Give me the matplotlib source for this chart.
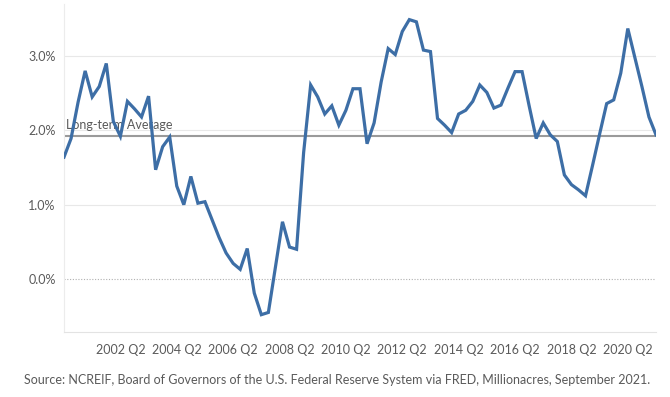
import matplotlib
matplotlib.use("Agg")
import matplotlib.pyplot as plt
import pandas as pd

# Quarterly series, 2000 Q2 .. 2021 Q2
quarters = [str(p).replace("Q", " Q") for p in pd.period_range("2000Q2", "2021Q2", freq="Q")]
values = [
    1.64, 1.89, 2.38, 2.80, 2.45, 2.59, 2.90, 2.12, 1.92, 2.39,
    2.29, 2.18, 2.46, 1.47, 1.78, 1.91, 1.25, 1.00, 1.38, 1.02,
    1.04, 0.80, 0.56, 0.35, 0.21, 0.13, 0.41, -0.19, -0.48, -0.45,
    0.16, 0.77, 0.43, 0.40, 1.70, 2.61, 2.45, 2.22, 2.33, 2.07,
    2.27, 2.56, 2.56, 1.82, 2.10, 2.65, 3.10, 3.02, 3.33, 3.49,
    3.46, 3.08, 3.06, 2.16, 2.07, 1.97, 2.22, 2.27, 2.39, 2.61,
    2.51, 2.30, 2.34, 2.57, 2.79, 2.79, 2.33, 1.89, 2.10, 1.94,
    1.85, 1.40, 1.27, 1.20, 1.12, 1.53, 1.95, 2.36, 2.41, 2.77,
    3.37, 2.98, 2.59, 2.18, 1.94,
]
long_term_average = 1.93
tick_labels = ["2002 Q2", "2004 Q2", "2006 Q2", "2008 Q2", "2010 Q2",
               "2012 Q2", "2014 Q2", "2016 Q2", "2018 Q2", "2020 Q2"]
y_ticks = [0.0, 1.0, 2.0, 3.0]
source = ("Source: NCREIF, Board of Governors of the U.S. Federal Reserve System "
          "via FRED, Millionacres, September 2021.")

plt.rcParams["font.family"] = ["Lato", "DejaVu Sans"]
text_color = "#5a5a5a"

fig = plt.figure(figsize=(6.70, 3.97), dpi=100)
W, H = 670, 397
ax = fig.add_axes([64 / W, 1 - 332 / H, (656 - 64) / W, (332 - 4) / H])

x = list(range(len(values)))
# grid lines
for yt in y_ticks:
    if yt == 0:
        ax.axhline(yt, color="#b0b0b0", lw=0.8, ls=(0, (1, 1.5)), zorder=1)
    else:
        ax.axhline(yt, color="#e8e8e8", lw=0.8, zorder=1)

ax.axhline(long_term_average, color="#9a9a9a", lw=1.5, zorder=2)
ax.text(0.35, long_term_average + 0.06, "Long-term Average", color=text_color,
        fontsize=9, ha="left", va="bottom", zorder=2)

ax.plot(x, values, color="#3d6ea6", lw=2.3, solid_joinstyle="miter", zorder=3)

ax.set_xlim(0, len(values) - 1)
ax.set_ylim(-0.713, 3.70)

pos = [quarters.index(t) for t in tick_labels]
ax.set_xticks(pos)
ax.set_xticklabels(tick_labels)
ax.set_yticks(y_ticks)
ax.set_yticklabels([f"{v:.1f}%" for v in y_ticks])
ax.tick_params(axis="both", length=0, colors=text_color, labelsize=9)
ax.tick_params(axis="x", pad=9)
ax.tick_params(axis="y", pad=6)

for s in ["top", "right"]:
    ax.spines[s].set_visible(False)
ax.spines["left"].set_color("#ececec")
ax.spines["bottom"].set_color("#e3e3e3")
ax.spines["left"].set_linewidth(0.8)
ax.spines["bottom"].set_linewidth(0.8)

fig.text(24 / W, 1 - 380 / H, source, color=text_color, fontsize=9,
         ha="left", va="center")

fig.savefig("out.png", dpi=100)
